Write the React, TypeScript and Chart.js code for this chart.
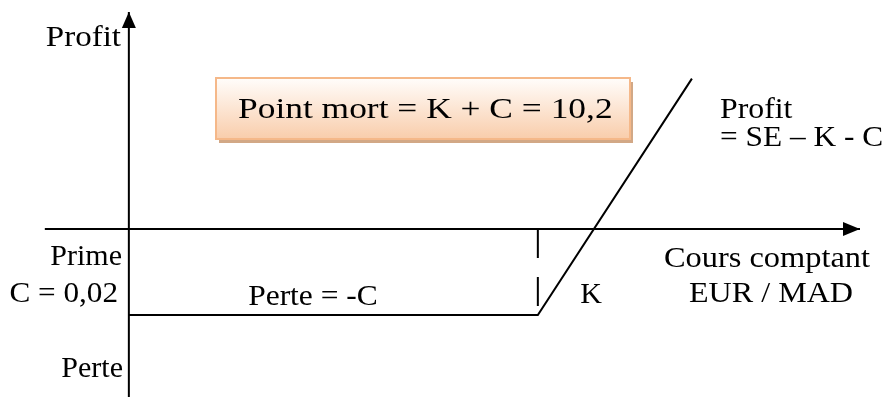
import React, { useEffect, useRef } from "react";
import { Chart, registerables } from "chart.js";
Chart.register(...registerables);

// Schematic call-option payoff (EUR/MAD)
const STRIKE = 10.18;
const PREMIUM = 0.02;
const BREAK_EVEN = STRIKE + PREMIUM; // 10,2
const spotValues = [10.034, 10.18, 10.235];
const payoffValues = [-0.02, -0.02, 0.035];
const strikeDashSpot = [STRIKE, STRIKE];
const strikeDashValues = [0, -PREMIUM];
const xAxisSpot = [10.004, 10.295];
const yAxisSpot = [10.034, 10.034];
const yAxisValues = [-0.0391, 0.0505];
const X_MIN = 9.988;
const X_MAX = 10.305;
const Y_MIN = -0.0391;
const Y_MAX = 0.0533;

const boxText = "Point mort = K + C = 10,2";
const textLabels = {
  profitAxis: "Profit",
  perteAxis: "Perte",
  prime: "Prime",
  premium: "C = 0,02",
  loss: "Perte = -C",
  strike: "K",
  profitFormula1: "Profit",
  profitFormula2: "= SE \u2013 K - C",
  spot1: "Cours comptant",
  spot2: "EUR / MAD",
};

const FONT = "30px 'Liberation Serif', 'Times New Roman', serif";

const decorPlugin = {
  id: "decor",
  afterDatasetsDraw(chart: any) {
    const ctx: CanvasRenderingContext2D = chart.ctx;
    const xs = chart.scales.x;
    const ys = chart.scales.y;
    const px = (v: number) => xs.getPixelForValue(v);
    const py = (v: number) => ys.getPixelForValue(v);
    ctx.save();
    ctx.fillStyle = "#000";
    // arrow heads
    const tx = px(yAxisSpot[1]);
    const ty = py(yAxisValues[1]);
    ctx.beginPath();
    ctx.moveTo(tx, ty);
    ctx.lineTo(tx - 7, ty + 16);
    ctx.lineTo(tx + 7, ty + 16);
    ctx.closePath();
    ctx.fill();
    const hx = px(xAxisSpot[1]);
    const hy = py(0);
    ctx.beginPath();
    ctx.moveTo(hx, hy);
    ctx.lineTo(hx - 17, hy - 7);
    ctx.lineTo(hx - 17, hy + 7);
    ctx.closePath();
    ctx.fill();

    // box
    const bx = 216, by = 78, bw = 414, bh = 61;
    ctx.fillStyle = "#d2a886";
    ctx.fillRect(bx + 3, by + 4, bw, bh);
    const g = ctx.createLinearGradient(0, by, 0, by + bh);
    g.addColorStop(0, "#fffdfb");
    g.addColorStop(1, "#f9cdab");
    ctx.fillStyle = g;
    ctx.fillRect(bx, by, bw, bh);
    ctx.strokeStyle = "#f5b889";
    ctx.lineWidth = 2;
    ctx.strokeRect(bx, by, bw, bh);

    ctx.fillStyle = "#000";
    ctx.font = FONT;
    ctx.textBaseline = "alphabetic";
    const t = (s: string, x: number, y: number, align: CanvasTextAlign, sx = 1) => {
      ctx.save();
      ctx.translate(x, y);
      ctx.scale(sx, 1);
      ctx.textAlign = align;
      ctx.fillText(s, 0, 0);
      ctx.restore();
    };
    t(boxText, 238, 118, "left", 1.18);
    t(textLabels.profitAxis, 121, 46, "right", 1.1);
    t(textLabels.perteAxis, 123, 377, "right");
    t(textLabels.prime, 122, 265, "right");
    t(textLabels.premium, 118, 302, "right", 1.04);
    t(textLabels.loss, 313, 305, "center", 1.05);
    t(textLabels.strike, 591, 303, "center");
    t(textLabels.profitFormula1, 720, 118, "left", 1.06);
    t(textLabels.profitFormula2, 720, 146, "left", 1.045);
    t(textLabels.spot1, 767, 267, "center", 1.08);
    t(textLabels.spot2, 771, 302, "center", 1.07);
    ctx.restore();
  },
};

export default function App() {
  const ref = useRef<HTMLCanvasElement | null>(null);
  useEffect(() => {
    document.body.style.margin = "0";
    const canvas = ref.current!;
    const toPts = (xsArr: number[], ysArr: number[]) => xsArr.map((x, i) => ({ x, y: ysArr[i] }));
    const lineDs = (data: any[], extra: any = {}) => ({
      data,
      showLine: true,
      borderColor: "#000",
      borderWidth: 2,
      pointRadius: 0,
      fill: false,
      tension: 0,
      ...extra,
    });
    const chart = new Chart(canvas, {
      type: "scatter",
      data: {
        datasets: [
          lineDs(toPts(xAxisSpot, [0, 0])),
          lineDs(toPts(yAxisSpot, yAxisValues)),
          lineDs(toPts(spotValues, payoffValues), { borderJoinStyle: "miter" }),
          lineDs(toPts(strikeDashSpot, strikeDashValues), { borderDash: [29, 19] }),
        ],
      },
      options: {
        responsive: false,
        animation: false,
        layout: { padding: 0 },
        plugins: { legend: { display: false }, tooltip: { enabled: false } },
        scales: {
          x: { type: "linear", min: X_MIN, max: X_MAX, display: false },
          y: { type: "linear", min: Y_MIN, max: Y_MAX, display: false },
        },
      },
      plugins: [decorPlugin],
    });
    return () => chart.destroy();
  }, []);
  return (
    <div style={{ width: 888, height: 397, background: "#fff" }}>
      <canvas ref={ref} width={888} height={397} />
    </div>
  );
}
